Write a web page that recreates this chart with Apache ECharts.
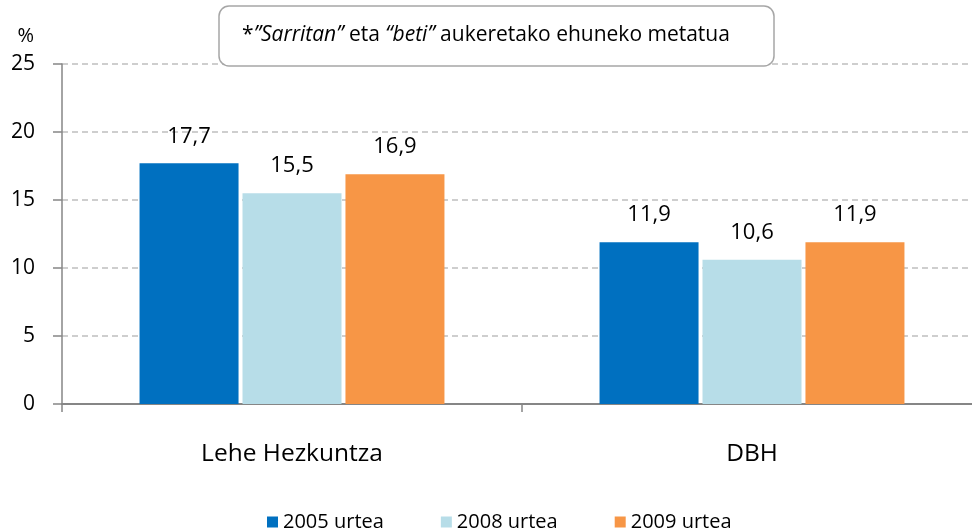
<!DOCTYPE html>
<html>
<head>
<meta charset="utf-8">
<script src="https://cdn.jsdelivr.net/npm/echarts@6/dist/echarts.min.js"></script>
<style>
  html, body { margin: 0; padding: 0; background: #fff; }
  #chart { width: 972px; height: 531px; }
</style>
</head>
<body>
<div id="chart"></div>
<script>
  const categories = ['Lehe Hezkuntza', 'DBH']
  const seriesNames = ['2005 urtea', '2008 urtea', '2009 urtea']
  const values2005 = [17.7, 11.9]
  const values2008 = [15.5, 10.6]
  const values2009 = [16.9, 11.9]
  const colors = ['#0070c0', '#b7dde8', '#f79646']
  const font = '"Open Sans", sans-serif'

  const chart = echarts.init(document.getElementById('chart'))

  const makeSeries = (name, data, color) => ({
    name,
    type: 'bar',
    data,
    barWidth: 99,
    barGap: '4%',
    itemStyle: { color },
    label: {
      show: true,
      position: 'top',
      distance: 16,
      color: '#000',
      fontSize: 22,
      fontFamily: font,
      formatter: (p) => String(p.value).replace('.', ',')
    }
  })

  const option = {
    animation: false,
    textStyle: { fontFamily: font },
    // the category axis runs past the right edge of the picture
    grid: { left: 62, width: 920, top: 64, bottom: 127, outerBoundsMode: 'none', containLabel: false },
    legend: {
      top: 507,
      left: 262,
      icon: 'rect',
      itemWidth: 11,
      itemHeight: 11,
      itemGap: 57,
      textStyle: { fontSize: 20, color: '#000', fontFamily: font },
      data: seriesNames
    },
    graphic: [
      {
        type: 'rect',
        shape: { x: 219, y: 6, width: 555, height: 60, r: 10 },
        style: { fill: '#fff', stroke: '#a6a6a6', lineWidth: 1.5 },
        z: 10
      },
      {
        type: 'text',
        x: 486,
        y: 35,
        z: 11,
        style: {
          rich: {
            i: { fontStyle: 'italic', fontSize: 21, fontFamily: font, fill: '#000' },
            n: { fontSize: 21, fontFamily: font, fill: '#000' }
          },
          text: '{n|*}{i|”Sarritan”}{n| eta }{i|“beti”}{n| aukeretako ehuneko metatua}',
          align: 'center',
          verticalAlign: 'middle'
        }
      }
    ],
    xAxis: {
      type: 'category',
      data: categories,
      axisLine: { lineStyle: { color: '#868686', width: 2 } },
      axisTick: { show: true, length: 8, lineStyle: { color: '#868686', width: 1.5 } },
      axisLabel: { margin: 38, fontSize: 24.5, color: '#000', fontFamily: font },
      splitLine: { show: false }
    },
    yAxis: {
      type: 'value',
      min: 0,
      max: 25,
      interval: 5,
      name: '%',
      nameLocation: 'end',
      nameGap: 18,
      nameTextStyle: { fontSize: 20, color: '#000', align: 'right', padding: [0, 28, 0, 0] },
      axisLine: { show: true, lineStyle: { color: '#868686', width: 1.5 } },
      axisTick: { show: true, length: 9, lineStyle: { color: '#868686', width: 1.5 } },
      axisLabel: { margin: 27, fontSize: 21, color: '#000', fontFamily: font },
      splitLine: { lineStyle: { color: '#bfbfbf', type: [6, 4], width: 1.5 } }
    },
    series: [
      makeSeries(seriesNames[0], values2005, colors[0]),
      makeSeries(seriesNames[1], values2008, colors[1]),
      makeSeries(seriesNames[2], values2009, colors[2])
    ]
  }

  chart.setOption(option)
  window.addEventListener('resize', () => chart.resize())
</script>
</body>
</html>
